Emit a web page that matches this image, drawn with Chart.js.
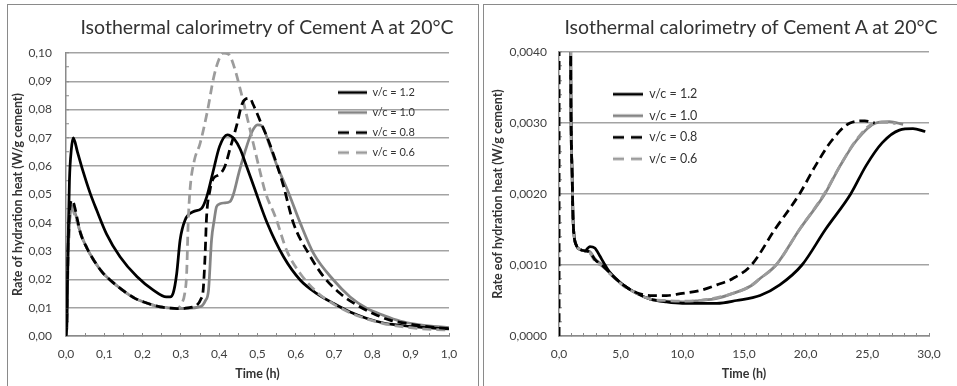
<!DOCTYPE html>
<html>
<head>
<meta charset="utf-8">
<script src="https://cdn.jsdelivr.net/npm/chart.js@4.4.0/dist/chart.umd.min.js"></script>
<style>
  body { margin: 0; background: #fff; width: 957px; height: 386px; overflow: hidden; position: relative; font-family: Lato, sans-serif; }
  .panel { position: absolute; top: 4px; height: 420px; border: 1px solid #8a8a8a; box-sizing: border-box; }
  .title { position: absolute; top: 15px; font-size: 19.5px; line-height: 24px; color: #333; white-space: nowrap; transform: translateX(-50%); }
  canvas { position: absolute; top: 0; }
</style>
</head>
<body>
<div class="panel" style="left:7px;width:472px"></div>
<div class="panel" style="left:483px;width:480px"></div>
<canvas id="left" width="478" height="386" style="left:0"></canvas>
<canvas id="right" width="477" height="386" style="left:480px"></canvas>
<div class="title" style="left:267px">Isothermal calorimetry of Cement A at 20°C</div>
<div class="title" style="left:751px">Isothermal calorimetry of Cement A at 20°C</div>
<script>
const seriesLabels = ['v/c = 1.2', 'v/c = 1.0', 'v/c = 0.8', 'v/c = 0.6']

// left chart, first hour (h) / W per g cement
const leftTime12 = [0, 0.002, 0.005, 0.009, 0.014, 0.019, 0.03, 0.045, 0.063, 0.08, 0.106, 0.141, 0.185, 0.228, 0.262, 0.272, 0.28, 0.289, 0.298, 0.311, 0.332, 0.354, 0.367, 0.383, 0.401, 0.421, 0.44, 0.455, 0.47, 0.49, 0.525, 0.568, 0.612, 0.655, 0.699, 0.742, 0.786, 0.829, 0.872, 0.916, 0.96, 1.0]
const leftRate12 = [0, 0.003, 0.030, 0.055, 0.066, 0.070, 0.065, 0.058, 0.0505, 0.0445, 0.036, 0.028, 0.021, 0.0162, 0.0138, 0.0138, 0.0152, 0.022, 0.034, 0.041, 0.0439, 0.0451, 0.049, 0.0575, 0.067, 0.0711, 0.0695, 0.066, 0.0605, 0.053, 0.040, 0.028, 0.0197, 0.015, 0.0115, 0.0085, 0.0062, 0.0046, 0.0038, 0.0032, 0.0028, 0.0025]

const leftTime10 = [0, 0.002, 0.005, 0.009, 0.013, 0.017, 0.025, 0.038, 0.055, 0.0725, 0.095, 0.116, 0.14, 0.16, 0.18, 0.203, 0.225, 0.246, 0.27, 0.29, 0.32, 0.345, 0.356, 0.364, 0.372, 0.38, 0.387, 0.393, 0.402, 0.411, 0.428, 0.437, 0.452, 0.467, 0.485, 0.5, 0.512, 0.53, 0.55, 0.58, 0.612, 0.647, 0.699, 0.742, 0.786, 0.829, 0.872, 0.916, 0.96, 1.0]
const leftRate10 = [0, 0.003, 0.025, 0.040, 0.045, 0.046, 0.043, 0.0363, 0.031, 0.0268, 0.0225, 0.0197, 0.017, 0.015, 0.0133, 0.012, 0.011, 0.0103, 0.0099, 0.0097, 0.0098, 0.0102, 0.0108, 0.0125, 0.016, 0.034, 0.041, 0.0457, 0.0467, 0.047, 0.0475, 0.050, 0.058, 0.065, 0.072, 0.0746, 0.0742, 0.068, 0.0605, 0.051, 0.0398, 0.029, 0.0197, 0.0138, 0.0097, 0.0073, 0.0053, 0.0041, 0.0034, 0.0030]

const leftTime08 = [0, 0.002, 0.005, 0.009, 0.012, 0.016, 0.022, 0.03, 0.038, 0.055, 0.0725, 0.095, 0.116, 0.14, 0.16, 0.18, 0.203, 0.225, 0.246, 0.27, 0.29, 0.31, 0.33, 0.341, 0.352, 0.358, 0.363, 0.367, 0.376, 0.385, 0.40, 0.415, 0.43, 0.446, 0.459, 0.47, 0.48, 0.489, 0.51, 0.533, 0.567, 0.594, 0.634, 0.673, 0.716, 0.76, 0.803, 0.846, 0.89, 0.95, 1.0]
const leftRate08 = [0, 0.004, 0.028, 0.043, 0.047, 0.048, 0.046, 0.041, 0.0363, 0.031, 0.0268, 0.0225, 0.0197, 0.017, 0.015, 0.0133, 0.012, 0.011, 0.0103, 0.0099, 0.0097, 0.0098, 0.0102, 0.0108, 0.013, 0.016, 0.028, 0.042, 0.0516, 0.0557, 0.057, 0.060, 0.067, 0.0746, 0.0817, 0.0838, 0.084, 0.0817, 0.075, 0.0675, 0.0534, 0.0398, 0.029, 0.0209, 0.015, 0.0109, 0.0079, 0.0056, 0.0044, 0.0032, 0.0026]

const leftTime06 = [0, 0.002, 0.005, 0.009, 0.012, 0.016, 0.022, 0.03, 0.038, 0.055, 0.0725, 0.095, 0.116, 0.14, 0.16, 0.18, 0.203, 0.225, 0.246, 0.27, 0.29, 0.302, 0.31, 0.315, 0.319, 0.324, 0.335, 0.35, 0.37, 0.385, 0.40, 0.411, 0.425, 0.437, 0.459, 0.49, 0.505, 0.52, 0.547, 0.577, 0.612, 0.655, 0.70, 0.742, 0.786, 0.829, 0.872, 0.916, 0.96, 1.0]
const leftRate06 = [0, 0.003, 0.024, 0.039, 0.044, 0.045, 0.043, 0.040, 0.0363, 0.031, 0.0268, 0.0225, 0.0197, 0.017, 0.015, 0.0133, 0.012, 0.011, 0.0103, 0.0099, 0.0097, 0.0115, 0.015, 0.022, 0.040, 0.052, 0.062, 0.068, 0.080, 0.091, 0.098, 0.100, 0.0995, 0.096, 0.085, 0.0675, 0.059, 0.051, 0.042, 0.030, 0.022, 0.0155, 0.0112, 0.0082, 0.006, 0.0044, 0.0034, 0.0027, 0.0023, 0.0021]

// right chart, 30 hours
const rightTime12 = [0.02, 0.42, 0.95, 1.05, 1.15, 1.4, 1.7, 2.1, 2.5, 2.9, 3.3, 3.6, 4.1, 5.2, 6.3, 7.4, 8.7, 10.0, 11.4, 12.8, 14.4, 16.3, 17.9, 19.7, 21.6, 23.65, 24.9, 26.2, 27.6, 28.7, 29.7]
const rightRate12 = [0.07, 0.071, 0.004, 0.0024, 0.0016, 0.00128, 0.00122, 0.0012, 0.00126, 0.00124, 0.00113, 0.00104, 0.0009, 0.00072, 0.0006, 0.00052, 0.00048, 0.00046, 0.00046, 0.00046, 0.0005, 0.00057, 0.00072, 0.001, 0.0015, 0.002, 0.0024, 0.00272, 0.0029, 0.00292, 0.00288]

const rightTime10 = [0.02, 0.5, 0.95, 1.05, 1.15, 1.4, 1.7, 2.1, 2.5, 2.9, 3.6, 4.1, 5.2, 6.3, 7.4, 8.7, 10.0, 11.4, 12.8, 14.1, 15.5, 16.3, 17.6, 19.5, 21.55, 22.8, 24.1, 25.7, 26.8, 27.9]
const rightRate10 = [0.046, 0.0746, 0.004, 0.0024, 0.0016, 0.00128, 0.00122, 0.0012, 0.00119, 0.00109, 0.00099, 0.0009, 0.00072, 0.0006, 0.00052, 0.00049, 0.00048, 0.0005, 0.00053, 0.0006, 0.0007, 0.00081, 0.001, 0.0015, 0.002, 0.0024, 0.00275, 0.003, 0.00302, 0.00298]

const rightTime08 = [0, 0.02, 0.48, 0.95, 1.05, 1.15, 1.4, 1.7, 2.1, 2.5, 2.9, 3.6, 4.1, 5.2, 6.3, 7.4, 8.7, 10.0, 11.4, 12.8, 14.1, 15.6, 17.5, 19.5, 20.8, 22.1, 23.6, 24.8, 25.6]
const rightRate08 = [0, 0.048, 0.084, 0.004, 0.0024, 0.0016, 0.00128, 0.00122, 0.0012, 0.00118, 0.00108, 0.00098, 0.00089, 0.00072, 0.00061, 0.00057, 0.00057, 0.0006, 0.00064, 0.00072, 0.00081, 0.001, 0.0015, 0.002, 0.0024, 0.00275, 0.003, 0.00303, 0.003]

const rightTime06 = [0, 0.02, 0.41, 0.95, 1.05, 1.15, 1.4, 1.7, 2.1, 2.5, 2.9, 3.6, 4.1, 5.2, 6.3, 7.4, 8.7, 10.0, 11.4, 12.8, 14.1, 15.5, 16.3, 17.6, 19.5, 21.5, 22.8, 24.1, 25.6, 26.6, 27.3]
const rightRate06 = [0, 0.045, 0.1, 0.004, 0.0024, 0.0016, 0.00128, 0.00122, 0.0012, 0.00117, 0.00106, 0.00097, 0.00088, 0.00071, 0.0006, 0.00052, 0.0005, 0.00049, 0.0005, 0.00054, 0.0006, 0.0007, 0.00081, 0.001, 0.0015, 0.002, 0.0024, 0.00276, 0.003, 0.00301, 0.00299]

// draw order weight: higher goes underneath, so v/c = 0.8 ends on top
const lineStyles = [
  { color: '#000000', dash: [], order: 2 },
  { color: '#858585', dash: [], order: 3 },
  { color: '#000000', dash: [9, 5], order: 0 },
  { color: '#9c9c9c', dash: [9, 5], order: 1 }
]
const lineWidth = 2.75
const axisGray = '#8a8a8a'
const gridGray = '#a3a3a3'

Chart.defaults.font.family = 'Lato, sans-serif'
Chart.defaults.color = '#404040'

function points(times, rates) {
  return times.map((t, i) => ({ x: t, y: rates[i] }))
}

// small line swatch for the legend, since point style 'line' ignores the dash
function legendSample(style, w) {
  const c = document.createElement('canvas')
  c.width = w
  c.height = 6
  const g = c.getContext('2d')
  g.strokeStyle = style.color
  g.lineWidth = lineWidth
  g.setLineDash(style.dash.length ? [11, 7] : [])
  g.beginPath()
  g.moveTo(0, 3)
  g.lineTo(w, 3)
  g.stroke()
  return c
}

function makeDatasets(series, sampleWidth) {
  return series.map((s, i) => ({
    label: seriesLabels[i],
    data: points(s[0], s[1]),
    borderColor: lineStyles[i].color,
    backgroundColor: lineStyles[i].color,
    borderDash: lineStyles[i].dash,
    borderWidth: lineWidth,
    pointRadius: 0,
    pointStyle: legendSample(lineStyles[i], sampleWidth),
    showLine: true,
    cubicInterpolationMode: 'monotone',
    order: lineStyles[i].order
  }))
}

const isMultiple = (v, step) => Math.abs(v / step - Math.round(v / step)) < 1e-6
const comma = (v, d) => v.toFixed(d).replace('.', ',')

// puts the legend inside the plot, offset from the chart area corner
const legendPlacer = {
  id: 'legendPlacer',
  afterLayout(chart, args, opts) {
    const lg = chart.legend
    const area = chart.chartArea
    lg.left = area.left + opts.dx
    lg.top = area.top + opts.dy
    lg.width = 160
    lg.height = 120
    lg.right = lg.left + lg.width
    lg.bottom = lg.top + lg.height
  }
}

function makeChart(id, cfg) {
  return new Chart(document.getElementById(id), {
    type: 'scatter',
    data: { datasets: makeDatasets(cfg.series, cfg.legendLine) },
    options: {
      responsive: false,
      animation: false,
      layout: { padding: { top: cfg.top, right: cfg.right, bottom: 0, left: 0 } },
      plugins: {
        tooltip: { enabled: false },
        legendPlacer: { dx: cfg.legendDx, dy: cfg.legendDy },
        legend: {
          position: 'chartArea',
          align: 'start',
          labels: {
            usePointStyle: true,
            pointStyleWidth: cfg.legendLine,
            padding: 9,
            color: '#333',
            font: { size: cfg.legendFont },
            sort: (a, b) => a.datasetIndex - b.datasetIndex
          }
        }
      },
      scales: {
        x: {
          type: 'linear',
          min: 0,
          max: cfg.xMax,
          afterFit: s => { s.height = 50 },
          ticks: {
            stepSize: cfg.xMinor,
            autoSkip: false,
            maxRotation: 0,
            padding: 14,
            font: { size: 12 },
            callback: v => isMultiple(v, cfg.xMajor) ? comma(v, 1) : ''
          },
          grid: { drawOnChartArea: false, tickLength: -3, tickColor: axisGray, tickWidth: 1 },
          border: { color: axisGray, width: 1.5 },
          title: { display: true, text: 'Time (h)', color: '#333', font: { size: 12.5, weight: 'bold' }, padding: { top: 0, bottom: 4.5 } }
        },
        y: {
          min: 0,
          max: cfg.yMax,
          afterFit: s => { s.width = cfg.yWidth },
          ticks: {
            stepSize: cfg.yMinor,
            autoSkip: false,
            padding: cfg.yPad,
            font: { size: 12 },
            callback: v => isMultiple(v, cfg.yMajor) ? comma(v, cfg.yDigits) : ''
          },
          grid: {
            color: ctx => (ctx.tick && isMultiple(ctx.tick.value, cfg.yMajor)) ? gridGray : 'rgba(0,0,0,0)',
            lineWidth: 1.5,
            tickLength: -3,
            tickColor: axisGray,
            tickWidth: 1
          },
          border: { color: axisGray, width: 1.5 },
          title: { display: true, text: cfg.yTitle, color: '#333', font: { size: 12.5, weight: 'bold' }, padding: { top: 10.5, bottom: 0 } }
        }
      }
    },
    plugins: [legendPlacer]
  })
}

makeChart('left', {
  series: [[leftTime12, leftRate12], [leftTime10, leftRate10], [leftTime08, leftRate08], [leftTime06, leftRate06]],
  top: 53, right: 29, yWidth: 66, yPad: 17,
  xMax: 1, xMinor: 0.05, xMajor: 0.1,
  yMax: 0.1, yMinor: 0.005, yMajor: 0.01, yDigits: 2,
  yTitle: 'Rate of hydration heat (W/g cement)',
  legendDx: 263, legendDy: 25, legendLine: 29, legendFont: 11
})

makeChart('right', {
  series: [[rightTime12, rightRate12], [rightTime10, rightRate10], [rightTime08, rightRate08], [rightTime06, rightRate06]],
  top: 52, right: 28, yWidth: 79, yPad: 15,
  xMax: 30, xMinor: 1, xMajor: 5,
  yMax: 0.004, yMinor: 0.0002, yMajor: 0.001, yDigits: 4,
  yTitle: 'Rate eof hydration heat (W/g cement)',
  legendDx: 45, legendDy: 27, legendLine: 30, legendFont: 12.5
})
</script>
</body>
</html>
